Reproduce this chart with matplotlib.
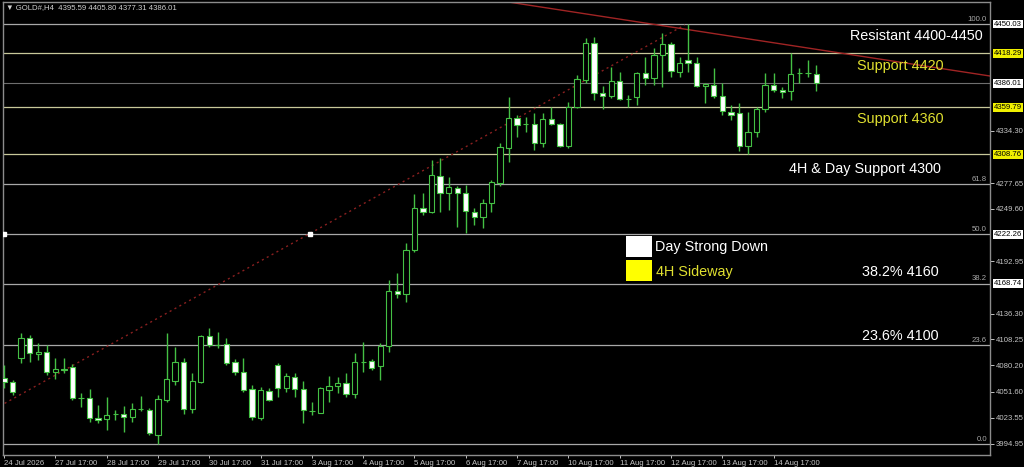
import numpy as np
import matplotlib.pyplot as plt
import matplotlib.transforms as mtransforms
from matplotlib.patches import Rectangle

plt.rcParams['font.family'] = ['Liberation Sans', 'DejaVu Sans']

# GOLD# H4 candles
opens = [4066.5, 4062.1, 4088.1, 4109.8, 4092.5, 4094.6, 4073.0, 4076.2, 4078.4, 4044.8,
         4044.8, 4023.1, 4022.0, 4027.4, 4027.4, 4024.2, 4032.9, 4031.8, 4004.7, 4042.6,
         4063.2, 4083.8, 4032.9, 4062.1, 4111.9, 4102.2, 4103.3, 4083.8, 4073.0, 4054.5,
         4023.1, 4052.4, 4080.6, 4055.6, 4067.5, 4054.5, 4030.7, 4028.5, 4053.5, 4057.8,
         4061.0, 4049.1, 4083.8, 4084.9, 4079.5, 4101.1, 4160.7, 4157.5, 4205.2, 4250.6,
         4246.3, 4285.3, 4266.9, 4272.3, 4266.9, 4246.3, 4240.9, 4256.1, 4277.7, 4315.7,
         4348.2, 4341.7, 4341.7, 4321.1, 4347.1, 4341.7, 4317.8, 4360.1, 4389.4, 4429.4,
         4375.3, 4372.0, 4388.3, 4368.8, 4371.0, 4396.9, 4391.5, 4416.4, 4428.4, 4398.0,
         4411.0, 4407.8, 4382.9, 4383.9, 4372.0, 4354.7, 4353.6, 4317.8, 4333.0, 4357.9,
         4383.9, 4378.5, 4377.4, 4396.9, 4396.9, 4395.59]
highs = [4080.6, 4064.3, 4115.2, 4113.0, 4104.4, 4102.2, 4088.1, 4088.1, 4081.6, 4050.2,
         4054.5, 4037.2, 4045.9, 4031.8, 4036.1, 4039.4, 4046.9, 4034.0, 4048.0, 4115.2,
         4100.0, 4088.1, 4071.9, 4113.0, 4120.6, 4116.3, 4109.8, 4087.1, 4088.1, 4058.9,
         4056.7, 4055.6, 4082.7, 4071.9, 4071.9, 4063.2, 4040.4, 4056.7, 4068.6, 4067.5,
         4071.9, 4093.5, 4105.5, 4087.1, 4104.4, 4172.6, 4180.2, 4212.7, 4265.8, 4266.9,
         4302.7, 4304.8, 4284.2, 4274.5, 4275.6, 4250.6, 4260.4, 4281.0, 4321.1, 4371.0,
         4351.4, 4349.3, 4353.6, 4353.6, 4360.1, 4342.8, 4365.5, 4394.8, 4434.8, 4435.9,
         4382.9, 4403.4, 4398.0, 4373.1, 4398.0, 4414.3, 4424.0, 4440.3, 4430.5, 4414.3,
         4450.03, 4414.3, 4386.1, 4402.4, 4386.1, 4362.3, 4364.4, 4354.7, 4360.1, 4396.9,
         4396.9, 4381.8, 4418.6, 4402.4, 4411.0, 4405.80]
lows = [4055.6, 4048.0, 4082.7, 4083.8, 4086.0, 4069.7, 4065.4, 4071.9, 4042.6, 4035.0,
        4018.8, 4017.7, 4010.1, 4020.9, 4007.9, 4018.8, 4030.7, 4004.7, 3994.95, 4040.4,
        4058.9, 4027.4, 4028.5, 4061.0, 4100.0, 4099.0, 4080.6, 4069.7, 4051.3, 4020.9,
        4020.9, 4041.5, 4045.9, 4051.3, 4045.9, 4017.7, 4026.4, 4028.5, 4040.4, 4050.2,
        4045.9, 4044.8, 4073.0, 4075.1, 4064.3, 4094.6, 4153.1, 4148.8, 4203.0, 4243.1,
        4245.2, 4246.3, 4248.5, 4230.1, 4223.6, 4232.2, 4229.0, 4246.3, 4274.5, 4300.5,
        4327.6, 4333.0, 4313.5, 4316.8, 4340.6, 4316.8, 4315.7, 4359.0, 4386.1, 4367.7,
        4357.9, 4369.9, 4367.7, 4360.1, 4362.3, 4383.9, 4383.9, 4381.8, 4392.6, 4392.6,
        4398.0, 4381.8, 4364.4, 4369.9, 4351.4, 4346.0, 4312.4, 4308.8, 4327.6, 4354.7,
        4376.4, 4369.9, 4367.7, 4386.1, 4392.6, 4377.31]
closes = [4062.1, 4051.3, 4109.8, 4093.5, 4094.6, 4073.0, 4076.2, 4075.6, 4044.8, 4044.3,
          4023.1, 4020.9, 4026.4, 4027.0, 4024.2, 4032.9, 4032.5, 4006.9, 4043.7, 4065.4,
          4083.8, 4032.9, 4063.2, 4111.9, 4102.2, 4101.8, 4082.7, 4073.0, 4053.5, 4024.2,
          4053.5, 4042.6, 4055.6, 4068.6, 4054.5, 4031.8, 4030.3, 4055.6, 4057.8, 4061.0,
          4049.1, 4083.8, 4083.3, 4077.3, 4101.1, 4160.7, 4157.5, 4205.2, 4250.6, 4246.3,
          4286.4, 4266.9, 4273.4, 4266.9, 4247.4, 4240.9, 4256.1, 4278.8, 4316.8, 4348.2,
          4340.6, 4341.2, 4321.1, 4347.1, 4341.7, 4317.8, 4360.1, 4390.4, 4429.4, 4375.3,
          4372.0, 4388.3, 4368.8, 4368.4, 4396.9, 4391.5, 4416.4, 4428.4, 4399.1, 4407.8,
          4407.8, 4382.9, 4385.0, 4372.0, 4355.8, 4351.4, 4317.8, 4333.0, 4357.9, 4383.9,
          4378.5, 4376.4, 4395.9, 4396.5, 4396.5, 4386.01]

day_labels = ['24 Jul 2026', '27 Jul 17:00', '28 Jul 17:00', '29 Jul 17:00', '30 Jul 17:00',
              '31 Jul 17:00', '3 Aug 17:00', '4 Aug 17:00', '5 Aug 17:00', '6 Aug 17:00',
              '7 Aug 17:00', '10 Aug 17:00', '11 Aug 17:00', '12 Aug 17:00', '13 Aug 17:00',
              '14 Aug 17:00']
bars_per_day = 6

# only the price labels that are not hidden under a tag
price_ticks = [3994.95, 4023.55, 4051.60, 4080.20, 4108.25, 4136.30, 4192.95,
               4249.60, 4277.65, 4334.30]

fib_levels = [4450.03, 4276.2, 4222.26, 4168.74, 4102.4, 3994.95]
fib_names = ['100.0', '61.8', '50.0', '38.2', '23.6', '0.0']
support_levels = [4418.29, 4359.79, 4308.76]
last_price = 4386.01
white_tags = [4450.03, 4386.01, 4222.26, 4168.74]
yellow_tags = [4418.29, 4359.79, 4308.76]

# trend lines (bar index, price)
up_line = ([-0.5, 79.6], [4036.0, 4449.0])
down_line = ([58.9, 115.3], [4474.0, 4393.7])
anchor_x = [0, 35.8]
anchor_y = [4222.26, 4222.26]

GREEN = '#44c044'
YEL_TXT = '#e0e030'

W, H = 1024, 467
fig = plt.figure(figsize=(W / 100, H / 100), dpi=100, facecolor='black')
ax = fig.add_axes([3 / W, (H - 455) / H, 987 / W, 453 / H], facecolor='black')

def ax_pt(px, py):
    # pixel position in the figure -> axes fraction
    return (px - 3) / 987, (455 - py) / 453

o = np.array(opens); h = np.array(highs); l = np.array(lows); c = np.array(closes)
x = np.arange(len(o))

# level lines
for lv in fib_levels:
    ax.axhline(lv, color='#a8a8a8', lw=0.9, zorder=1)
for lv in support_levels:
    ax.axhline(lv, color='#c8c89a', lw=0.9, zorder=1)
ax.axhline(last_price, color='#6e6e6e', lw=0.8, zorder=1)

ax.plot(*up_line, color='#8a2020', lw=1, ls=(0, (1.5, 2.5)), zorder=2)
ax.plot(*down_line, color='#a02424', lw=1, zorder=2)
ax.plot(anchor_x, anchor_y, ls='none', marker='s', ms=2.2, color='white', zorder=3)

# candles
ax.vlines(x, l, h, color=GREEN, lw=1, zorder=3)
bull = c >= o
body_h = np.maximum(np.abs(c - o), 0.8)
ax.bar(x, body_h, bottom=np.minimum(o, c), width=0.62,
       color=np.where(bull, 'black', 'white'), edgecolor=GREEN, lw=0.8, zorder=4)

ax.set_xlim(-0.12, 115.3)
ax.set_ylim(3983.0, 4473.9)

# axes styling
for s in ax.spines.values():
    s.set_color('#8c8c8c')
    s.set_linewidth(1)

ax.yaxis.tick_right()
ax.set_yticks(price_ticks)
ax.set_yticklabels([f'{v:.2f}' for v in price_ticks])
ax.tick_params(axis='y', colors='#c4c4c4', labelsize=5.6, length=3, width=0.7, pad=1)

tick_idx = [i * bars_per_day for i in range(len(day_labels))]
ax.set_xticks(tick_idx)
ax.set_xticklabels(day_labels, ha='left')
ax.tick_params(axis='x', colors='#c4c4c4', labelsize=5.6, length=2, width=0.7, pad=1.5)

blend = mtransforms.blended_transform_factory(ax.transAxes, ax.transData)
tag_x = 1 + 4 / 987
for v in white_tags:
    ax.text(tag_x, v, f'{v:.2f}', transform=blend, ha='left', va='center', fontsize=5.6,
            color='black', bbox=dict(boxstyle='square,pad=0.12', fc='white', ec='none'),
            clip_on=False, zorder=6)
for v in yellow_tags:
    ax.text(tag_x, v, f'{v:.2f}', transform=blend, ha='left', va='center', fontsize=5.6,
            color='black', bbox=dict(boxstyle='square,pad=0.12', fc='#f0f000', ec='none'),
            clip_on=False, zorder=6)

for lv, name in zip(fib_levels, fib_names):
    ax.text(1 - 3 / 987, lv + 1.2, name, transform=blend, ha='right', va='bottom',
            fontsize=5.6, color='#a8a8a8', zorder=5)

# header
ax.text(*ax_pt(6, 8), '\u25bc GOLD#,H4  4395.59 4405.80 4377.31 4386.01', transform=ax.transAxes,
        ha='left', va='center', fontsize=5.6, color='#d0d0d0', zorder=6)

# notes on the chart
notes = [('Resistant 4400-4450', 850, 40, 'white'),
         ('Support 4420', 857, 70, YEL_TXT),
         ('Support 4360', 857, 123, YEL_TXT),
         ('4H & Day Support 4300', 789, 173, 'white'),
         ('Day Strong Down', 655, 251, 'white'),
         ('4H Sideway', 656, 276, YEL_TXT),
         ('38.2% 4160', 862, 276, 'white'),
         ('23.6% 4100', 862, 340, 'white')]
for txt, px, py, col in notes:
    ax.text(*ax_pt(px, py), txt, transform=ax.transAxes, ha='left', va='baseline',
            fontsize=10.4, color=col, zorder=6)

for py0, fc in [(257, 'white'), (281, '#ffff00')]:
    ax.add_patch(Rectangle(ax_pt(626, py0), 26 / 987, 21 / 453, transform=ax.transAxes,
                           fc=fc, ec='none', zorder=6))

fig.savefig('out.png', dpi=100, facecolor='black')
